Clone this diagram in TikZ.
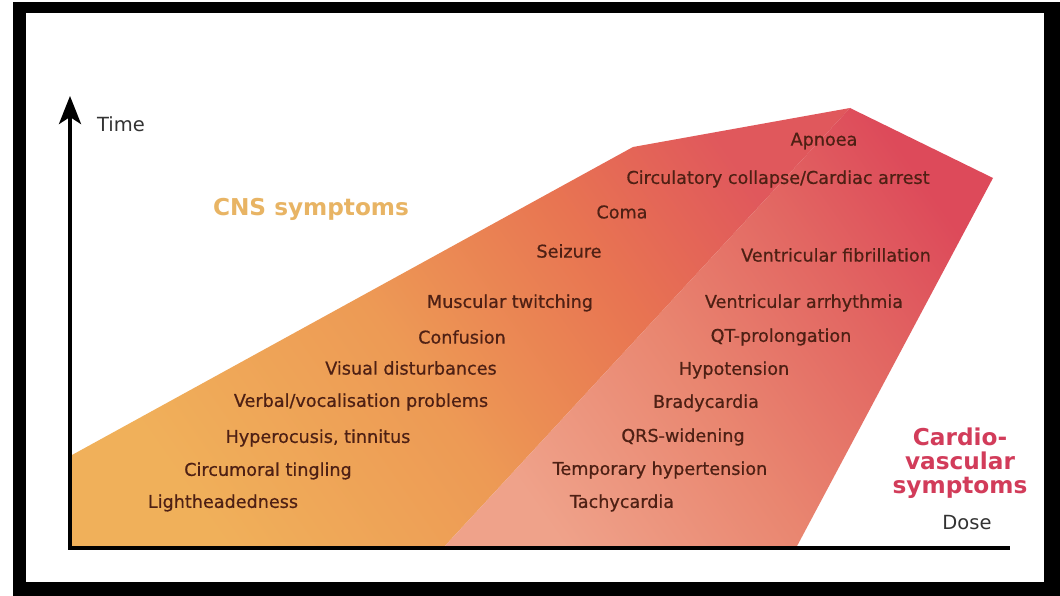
\documentclass[tikz,border=0pt]{standalone}
\usepackage{fontspec}
\setmainfont{DejaVu Sans}
\newfontfamily\symfont{DejaVu Sans}[FakeBold=0.6]
\usetikzlibrary{arrows.meta}
\definecolor{cnsA}{HTML}{F0B05A}
\definecolor{cnsB}{HTML}{ED9A55}
\definecolor{cnsC}{HTML}{E87452}
\definecolor{cnsD}{HTML}{E0585C}
\definecolor{cdA}{HTML}{EFA28A}
\definecolor{cdB}{HTML}{E98670}
\definecolor{cdC}{HTML}{E26662}
\definecolor{cdD}{HTML}{DD4A5A}
\definecolor{symtext}{HTML}{4E2014}
\definecolor{cnstitle}{HTML}{E8B464}
\definecolor{cvtitle}{HTML}{D23C5A}
\definecolor{axtext}{HTML}{333333}
\pgfdeclarehorizontalshading{cnsshade}{100bp}{color(0bp)=(cnsA); color(25bp)=(cnsA); color(45bp)=(cnsB); color(62bp)=(cnsC); color(75bp)=(cnsD); color(100bp)=(cnsD)}
\pgfdeclarehorizontalshading{cdshade}{100bp}{color(0bp)=(cdA); color(25bp)=(cdA); color(45bp)=(cdB); color(62bp)=(cdC); color(75bp)=(cdD); color(100bp)=(cdD)}
\tikzset{
  sym/.style={text=symtext, font=\symfont\fontsize{17.6}{20}\selectfont, inner sep=0pt, anchor=center},
  axlabel/.style={text=axtext, font=\fontsize{19.5}{22}\selectfont, inner sep=0pt, anchor=center},
  title/.style={font=\fontsize{23.2}{26}\bfseries\selectfont, inner sep=0pt, anchor=center},
  axisline/.style={line width=4pt, black},
}
\begin{document}
\begin{tikzpicture}[x=1pt,y=-1pt]
\useasboundingbox (0,0) rectangle (1060,596);
% frame
\fill[white] (0,0) rectangle (1060,596);
\fill[black] (13,2) rectangle (1060,596);
\fill[white] (26,13) rectangle (1044,582);
% CNS region
\shade[shading=cnsshade, shading angle=35] (72,548) -- (72,455) -- (633,147) -- (850,108) -- (443,548) -- cycle;
% Cardiovascular region
\shade[shading=cdshade, shading angle=35] (443,548) -- (850,108) -- (993,178) -- (796,548) -- cycle;
% axes
\coordinate (origin) at (70,548);
\coordinate (ytop) at (70,96);
\coordinate (xend) at (1010,548);
\draw[axisline, -{Stealth[length=28pt,width=22pt,inset=7pt]}] (origin) -- (ytop);
\draw[axisline, line cap=butt] ([xshift=-2pt]origin) -- (xend);
\node[axlabel] (time) at (121,124) {Time};
\node[axlabel] (dose) at (967,523) {Dose};
% titles
\node[title, text=cnstitle] (cnst) at (311,209) {CNS symptoms};
\node[title, text=cvtitle, align=center] (cvt) at (960,463) {Cardio-\\[-2pt]vascular\\[-2pt]symptoms};
% CNS symptoms
\node[sym] (s1) at (223,503) {Lightheadedness};
\node[sym] (s2) at (268,471) {Circumoral tingling};
\node[sym] (s3) at (318,438) {Hyperocusis, tinnitus};
\node[sym] (s4) at (361,402) {Verbal/vocalisation problems};
\node[sym] (s5) at (411,368) {Visual disturbances};
\node[sym] (s6) at (462,337) {Confusion};
\node[sym] (s7) at (510,303) {Muscular twitching};
\node[sym] (s8) at (569,251) {Seizure};
\node[sym] (s9) at (622,212) {Coma};
% Cardio symptoms
\node[sym] (c1) at (622,503) {Tachycardia};
\node[sym] (c2) at (660,470) {Temporary hypertension};
\node[sym] (c3) at (683,437) {QRS-widening};
\node[sym] (c4) at (706,403) {Bradycardia};
\node[sym] (c5) at (734,370) {Hypotension};
\node[sym] (c6) at (781,337) {QT-prolongation};
\node[sym] (c7) at (804,303) {Ventricular arrhythmia};
\node[sym] (c8) at (836,255) {Ventricular fibrillation};
\node[sym] (c9) at (778,179) {Circulatory collapse/Cardiac arrest};
\node[sym] (c10) at (824,141) {Apnoea};
\end{tikzpicture}
\end{document}
